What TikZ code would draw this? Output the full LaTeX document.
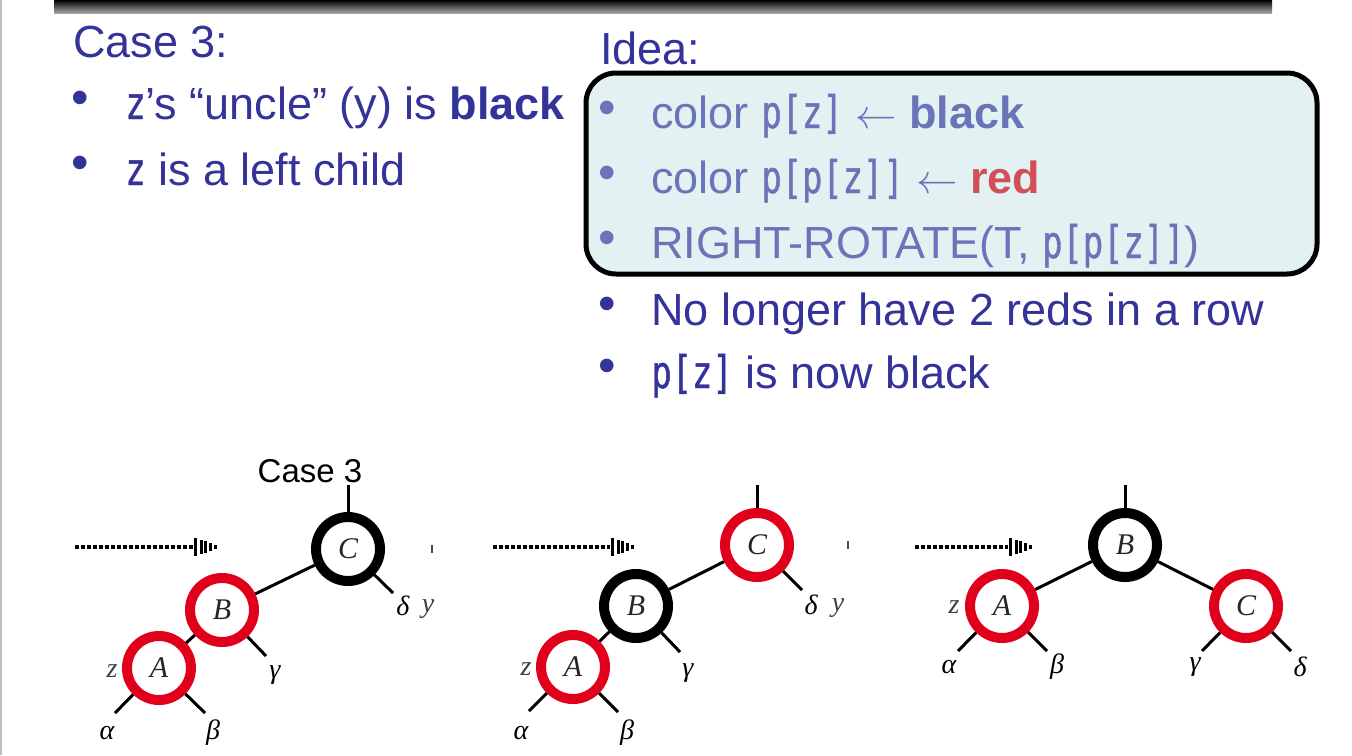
\documentclass[tikz,border=0pt]{standalone}
\usepackage{fontspec}
\setmainfont{Liberation Sans}
\newfontfamily\treefont{Liberation Serif}
\newfontfamily\codefont[FakeStretch=0.75,FakeBold=0.9]{DejaVu Sans Mono}
\usetikzlibrary{positioning}

\definecolor{slideblue}{HTML}{333399}
\definecolor{ideablue}{HTML}{6A74B8}
\definecolor{ideared}{HTML}{D24F5A}
\definecolor{ideafill}{HTML}{E3F1F3}
\definecolor{rbred}{HTML}{E0001B}
\newcommand{\code}[1]{{\codefont #1}}

\begin{document}
\begin{tikzpicture}[x=0.5pt,y=-0.5pt,
    txt/.style={anchor=base west, inner sep=0pt, font=\fontsize{22.5}{27}\selectfont, text=slideblue},
    dot/.style={inner sep=0pt, font=\fontsize{25}{26}\selectfont, text=slideblue},
    rednode/.style={circle, draw=rbred, line width=5pt, minimum size=32pt, inner sep=0pt,
        text=black!85, font=\treefont\itshape\fontsize{15}{15}\selectfont},
    blacknode/.style={rednode, draw=black},
    edge/.style={line width=1.5pt},
    leaf/.style={inner sep=0pt, font=\treefont\itshape\fontsize{14}{14}\selectfont},
    hint/.style={leaf, text=black!75},
    tip/.style={line width=1.5pt},
]
\useasboundingbox (0,0) rectangle (1352,755);
\draw[black!25, line width=1pt] (1,0) -- (1,755);
\shade[top color=black, bottom color=black!35] (54,0) rectangle (1272,13);

% left column
\node[txt] (case) at (73,57) {Case 3:};
\node[dot] (b1) at (80,103) {•};
\node[txt] (uncle) at (125,119) {\code{z}’s “uncle” (y) is \textbf{black}};
\node[dot] (b2) at (80,168) {•};
\node[txt] (leftchild) at (125,185) {\code{z} is a left child};

% idea box
\node[txt] (idea) at (600,64) {Idea:};
\draw[line width=2.5pt, fill=ideafill, rounded corners=15pt] (586,73) rectangle (1317,274);
\node[dot, text=ideablue] (ib1) at (607,113) {•};
\node[txt, text=ideablue] (l1) at (651,128) {color \code{p[z]} $\leftarrow$ \textbf{black}};
\node[dot, text=ideablue] (ib2) at (607,178) {•};
\node[txt, text=ideablue] (l2) at (651,193) {color \code{p[p[z]]} $\leftarrow$ \textbf{\color{ideared}red}};
\node[dot, text=ideablue] (ib3) at (607,243) {•};
\node[txt, text=ideablue] (l3) at (651,258) {RIGHT-ROTATE(T, \code{p[p[z]]})};
\node[dot] (ob1) at (607,309) {•};
\node[txt] (l4) at (651,325) {No longer have 2 reds in a row};
\node[dot] (ob2) at (607,371) {•};
\node[txt] (l5) at (651,388) {\code{p[z]} is now black};

% dotted arrows, the head is just bars getting shorter
\foreach \s/\e in {75/193, 493/610, 915/1008}{
    \coordinate (as) at (\s,547);
    \coordinate (ae) at (\e,547);
    \draw[line width=1.6pt, dash pattern=on 1.8pt off 1.2pt] (as) -- (ae);
    \foreach \dx/\h in {2/9, 8/7, 12/6, 17/4, 22/2}
        \draw[tip] (ae) ++(\dx,-\h) -- ++(0,2*\h);
}
\coordinate (tick1) at (432,545);
\draw[line width=1pt, black!70] (tick1) -- ++(0,8);
\coordinate (tick2) at (848,541);
\draw[line width=1pt, black!70] (tick2) -- ++(0,8);

% tree 1
\node[font=\fontsize{16.5}{18}\selectfont, inner sep=0pt] (case3) at (310,471) {Case 3};
\node[blacknode] (C1) at (348,549) {C};
\node[rednode] (B1) at (222,610) {B};
\node[rednode] (A1) at (159,668) {A};
\coordinate (C1top) at (348,485);
\coordinate (C1d) at (393,593);
\coordinate (B1g) at (266,656);
\coordinate (A1a) at (115,713);
\coordinate (A1b) at (205,713);
\draw[edge] (C1top) -- (C1);
\draw[edge] (C1) -- (B1);
\draw[edge] (B1) -- (A1);
\draw[edge] (C1) -- (C1d);
\draw[edge] (B1) -- (B1g);
\draw[edge] (A1) -- (A1a);
\draw[edge] (A1) -- (A1b);
\node[leaf] (d1) at (403,606) {δ};
\node[hint] (y1) at (428,609) {y};
\node[leaf] (g1) at (275,675) {γ};
\node[hint] (z1) at (112,671) {z};
\node[leaf] (al1) at (107,733) {α};
\node[leaf] (be1) at (213,733) {β};

% tree 2
\node[rednode] (C2) at (757,545) {C};
\node[blacknode] (B2) at (636,606) {B};
\node[rednode] (A2) at (573,667) {A};
\coordinate (C2top) at (757,485);
\coordinate (C2d) at (802,590);
\coordinate (B2g) at (680,652);
\coordinate (A2a) at (529,711);
\coordinate (A2b) at (618,712);
\draw[edge] (C2top) -- (C2);
\draw[edge] (C2) -- (B2);
\draw[edge] (B2) -- (A2);
\draw[edge] (C2) -- (C2d);
\draw[edge] (B2) -- (B2g);
\draw[edge] (A2) -- (A2a);
\draw[edge] (A2) -- (A2b);
\node[leaf] (d2) at (811,605) {δ};
\node[hint] (y2) at (838,608) {y};
\node[leaf] (g2) at (688,673) {γ};
\node[hint] (z2) at (526,669) {z};
\node[leaf] (al2) at (521,733) {α};
\node[leaf] (be2) at (627,733) {β};

% tree 3
\node[blacknode] (B3) at (1125,545) {B};
\node[rednode] (A3) at (1002,606) {A};
\node[rednode] (C3) at (1246,606) {C};
\coordinate (B3top) at (1125,485);
\coordinate (A3a) at (958,651);
\coordinate (A3b) at (1047,651);
\coordinate (C3g) at (1202,651);
\coordinate (C3d) at (1291,651);
\draw[edge] (B3top) -- (B3);
\draw[edge] (B3) -- (A3);
\draw[edge] (B3) -- (C3);
\draw[edge] (A3) -- (A3a);
\draw[edge] (A3) -- (A3b);
\draw[edge] (C3) -- (C3g);
\draw[edge] (C3) -- (C3d);
\node[hint] (z3) at (954,607) {z};
\node[leaf] (al3) at (949,667) {α};
\node[leaf] (be3) at (1057,667) {β};
\node[leaf] (g3) at (1195,667) {γ};
\node[leaf] (d3) at (1300,667) {δ};
\end{tikzpicture}
\end{document}
